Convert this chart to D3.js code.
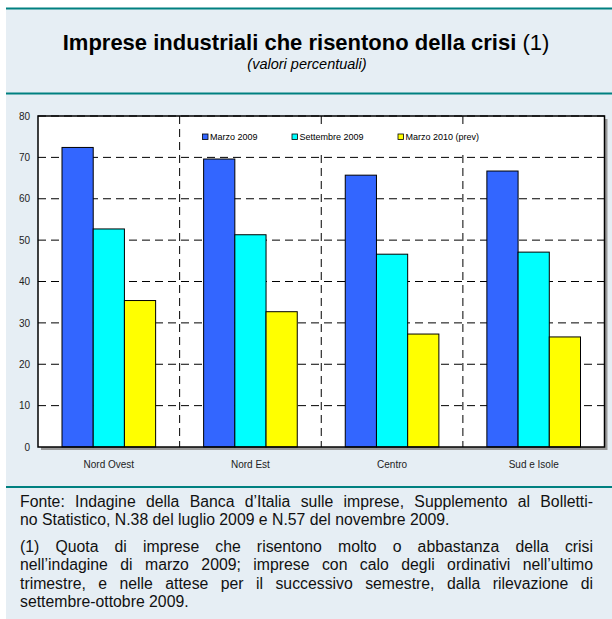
<!DOCTYPE html>
<html>
<head>
<meta charset="utf-8">
<script src="https://cdn.jsdelivr.net/npm/d3@7"></script>
<style>
  body { margin: 0; background: #fff; font-family: "Liberation Sans", Arial, sans-serif; }
  #wrap { position: relative; width: 612px; height: 619px; overflow: hidden; }
  .foot { position: absolute; left: 20px; width: 573px; font-size: 15.8px; line-height: 18.4px; color: #111; }
  .foot div { text-align: justify; text-align-last: justify; white-space: nowrap; }
  .foot div.last { text-align-last: left; }
</style>
</head>
<body>
<div id="wrap"></div>
<script>
// data
var regions = ["Nord Ovest", "Nord Est", "Centro", "Sud e Isole"];
var seriesNames = ["Marzo 2009", "Settembre 2009", "Marzo 2010 (prev)"];
var marzo2009 = [72.4, 69.6, 65.7, 66.7];
var settembre2009 = [52.7, 51.3, 46.6, 47.1];
var marzo2010 = [35.4, 32.7, 27.3, 26.6];
var yTicks = [0, 10, 20, 30, 40, 50, 60, 70, 80];
var colors = ["#3366ff", "#00ffff", "#ffff00"];

var titleMain = "Imprese industriali che risentono della crisi";
var titleNote = " (1)";
var subtitle = "(valori percentuali)";
var footLines1 = [
  "Fonte: Indagine della Banca d’Italia sulle imprese, Supplemento al Bolletti-",
  "no Statistico, N.38 del luglio 2009 e N.57 del novembre 2009."
];
var footLines2 = [
  "(1) Quota di imprese che risentono molto o abbastanza della crisi",
  "nell’indagine di marzo 2009; imprese con calo degli ordinativi nell’ultimo",
  "trimestre, e nelle attese per il successivo semestre, dalla rilevazione di",
  "settembre-ottobre 2009."
];

var W = 612, H = 619;
var wrap = d3.select("#wrap");
var svg = wrap.append("svg").attr("width", W).attr("height", H);

// panel background and rules
svg.append("rect").attr("x", 6).attr("y", 8).attr("width", W - 6).attr("height", H - 8).attr("fill", "#e6eef4");
[8.5, 93.5, 487].forEach(function (y) {
  svg.append("line").attr("x1", 6).attr("x2", W).attr("y1", y).attr("y2", y)
    .attr("stroke", "#008080").attr("stroke-width", 2);
});

// title
var t = svg.append("text").attr("x", 306).attr("y", 49.5).attr("text-anchor", "middle")
  .attr("font-size", 22).attr("fill", "#000");
t.append("tspan").attr("font-weight", "bold").text(titleMain);
t.append("tspan").text(titleNote);
svg.append("text").attr("x", 307).attr("y", 69).attr("text-anchor", "middle")
  .attr("font-size", 14.5).attr("font-style", "italic").text(subtitle);

// plot
var margin = { left: 38, top: 116, right: 7.5, bottom: 172 };
var pw = W - margin.left - margin.right, ph = H - margin.top - margin.bottom;
var g = svg.append("g").attr("transform", "translate(" + margin.left + "," + margin.top + ")");

var x0 = d3.scaleBand().domain(regions).range([0, pw]).paddingInner(0).paddingOuter(0);
var x1 = d3.scaleBand().domain(seriesNames).range([24, x0.bandwidth() - 24]);
var y = d3.scaleLinear().domain([0, 80]).range([ph, 0]);

// shadow + white area
g.append("rect").attr("x", 3).attr("y", 3).attr("width", pw).attr("height", ph).attr("fill", "#999");
g.append("rect").attr("width", pw).attr("height", ph).attr("fill", "#fff");

// grid
g.selectAll(".hgrid").data(yTicks.slice(1)).enter().append("line")
  .attr("x1", 0).attr("x2", pw).attr("y1", function (d) { return y(d); }).attr("y2", function (d) { return y(d); })
  .attr("stroke", "#000").attr("stroke-width", 1).attr("stroke-dasharray", "8,5");
g.selectAll(".vgrid").data(regions.slice(1)).enter().append("line")
  .attr("x1", function (d) { return x0(d); }).attr("x2", function (d) { return x0(d); })
  .attr("y1", 0).attr("y2", ph)
  .attr("stroke", "#000").attr("stroke-width", 1).attr("stroke-dasharray", "8,5");

// legend (white box hides grid)
var lg = g.append("g").attr("transform", "translate(158,8)");
lg.append("rect").attr("x", 0).attr("y", 0).attr("width", 292).attr("height", 27).attr("fill", "#fff");
var legX = [6.5, 96, 202];
seriesNames.forEach(function (s, i) {
  lg.append("rect").attr("x", legX[i]).attr("y", 10).attr("width", 5.5).attr("height", 5.5)
    .attr("fill", colors[i]).attr("stroke", "#000").attr("stroke-width", 0.8);
  lg.append("text").attr("x", legX[i] + 7.5).attr("y", 16.2).attr("font-size", 9).text(s);
});

// bars
var rows = regions.map(function (r, i) {
  return { region: r, vals: [marzo2009[i], settembre2009[i], marzo2010[i]] };
});
var grp = g.selectAll(".grp").data(rows).enter().append("g")
  .attr("transform", function (d) { return "translate(" + x0(d.region) + ",0)"; });
grp.selectAll("rect").data(function (d) { return d.vals; }).enter().append("rect")
  .attr("x", function (d, i) { return x1(seriesNames[i]); })
  .attr("y", function (d) { return y(d); })
  .attr("width", x1.bandwidth())
  .attr("height", function (d) { return ph - y(d); })
  .attr("fill", function (d, i) { return colors[i]; })
  .attr("stroke", "#000").attr("stroke-width", 1);

// frame
g.append("rect").attr("width", pw).attr("height", ph).attr("fill", "none")
  .attr("stroke", "#000").attr("stroke-width", 1.5);

// axes
var yAxis = d3.axisLeft(y).tickValues(yTicks).tickSize(0).tickPadding(8);
var ya = g.append("g").call(yAxis);
ya.select(".domain").remove();
ya.selectAll("text").attr("font-size", 10).attr("font-family", "Liberation Sans, Arial, sans-serif").attr("fill", "#222");

var xAxis = d3.axisBottom(x0).tickSize(0).tickPadding(14);
var xa = g.append("g").attr("transform", "translate(0," + ph + ")").call(xAxis);
xa.select(".domain").remove();
xa.selectAll("text").attr("font-size", 10).attr("font-family", "Liberation Sans, Arial, sans-serif").attr("fill", "#222");

// footer text
var f1 = wrap.append("div").attr("class", "foot").style("top", "493px");
f1.selectAll("div").data(footLines1).enter().append("div")
  .attr("class", function (d, i) { return i === footLines1.length - 1 ? "last" : null; })
  .text(function (d) { return d; });
var f2 = wrap.append("div").attr("class", "foot").style("top", "538px");
f2.selectAll("div").data(footLines2).enter().append("div")
  .attr("class", function (d, i) { return i === footLines2.length - 1 ? "last" : null; })
  .text(function (d) { return d; });
</script>
</body>
</html>
